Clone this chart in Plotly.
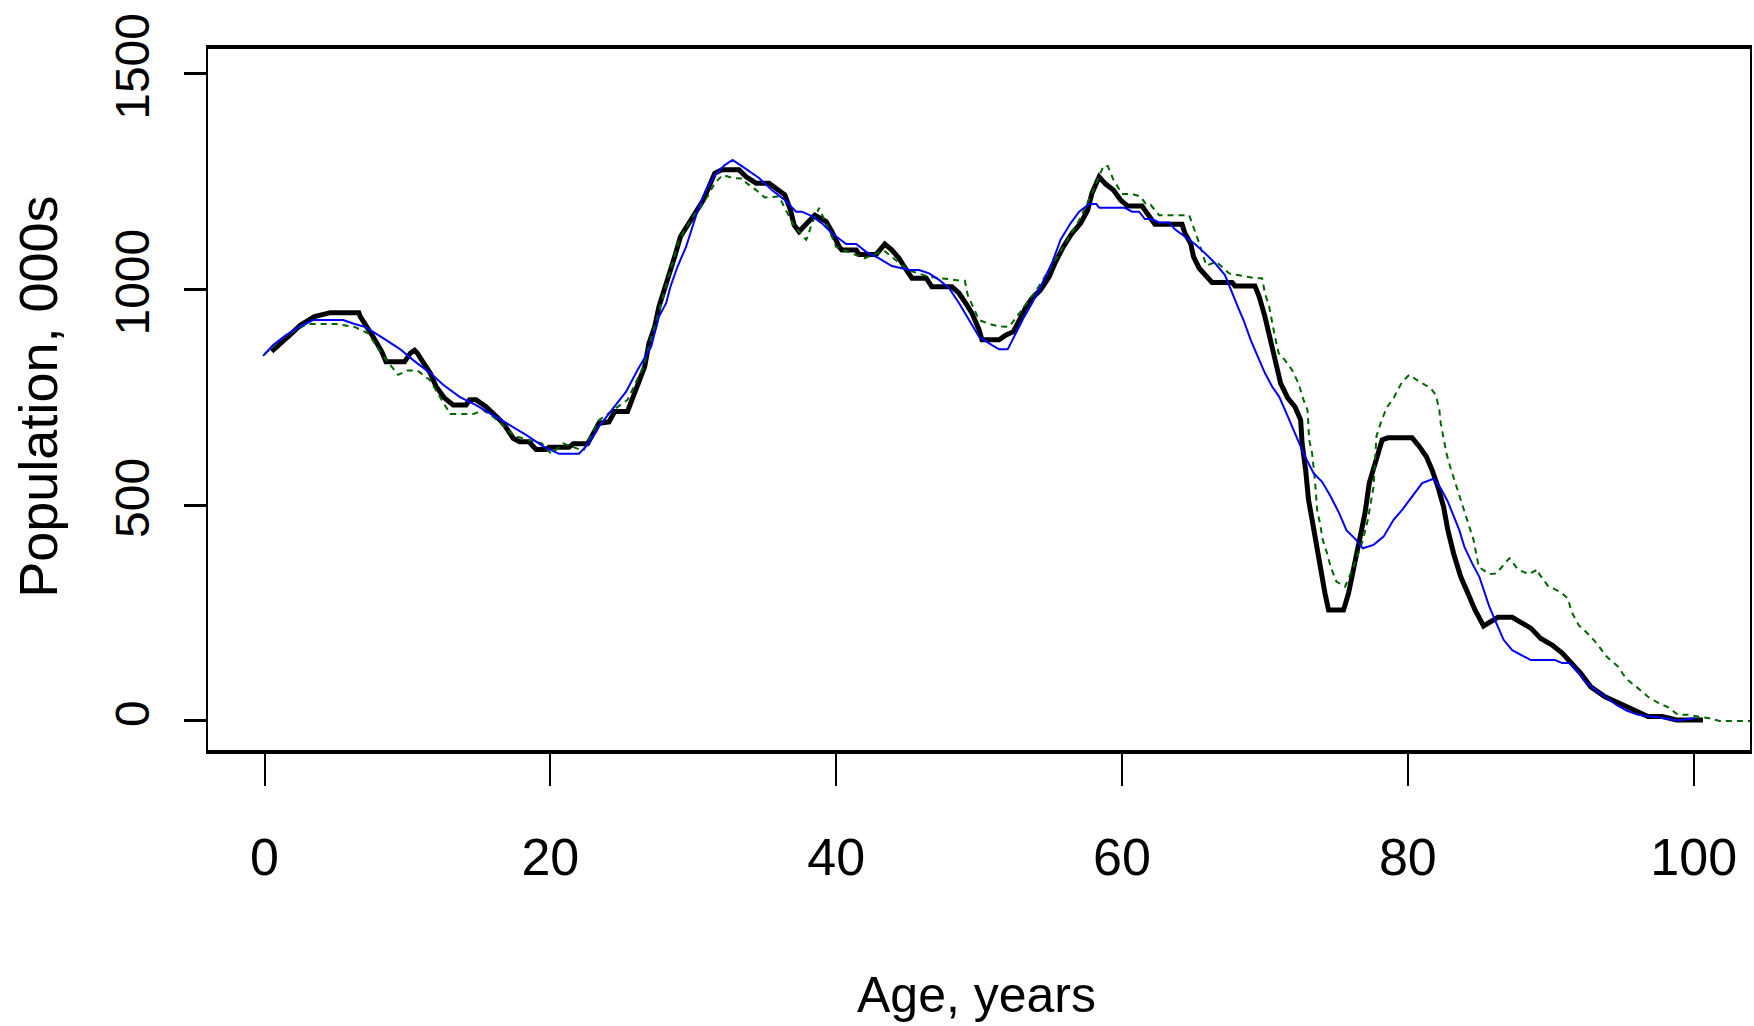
import plotly.graph_objects as go

# ---------------- data ----------------
black_age = [0.5, 1.2, 1.9, 2.5, 3.5, 4.6, 6.6, 6.7, 7.1, 7.6, 8.2, 8.5, 9.8, 10.2, 10.5, 10.7, 11.0, 11.6,
             12.0, 12.6, 13.2, 14.1, 14.35, 14.8, 15.5, 16.0, 16.7, 17.4, 17.85, 18.5, 19.0, 19.7, 19.9, 21.3,
             21.6, 22.6, 23.0, 23.4, 24.1, 24.5, 25.4, 25.8, 26.1, 26.6, 26.9, 27.3, 27.6, 28.0, 28.3, 28.7,
             29.1, 29.6, 30.2, 30.7, 31.1, 31.5, 32.0, 33.2, 33.7, 34.4, 35.3, 35.8, 36.4, 36.8, 37.06, 37.4,
             37.9, 38.5, 39.3, 39.7, 40.2, 40.4, 41.4, 41.6, 42.8, 43.2, 43.4, 43.9, 44.4, 44.75, 45.3, 46.3,
             46.7, 48.1, 48.6, 49.06, 49.5, 50.0, 50.2, 51.4, 51.86, 52.4, 52.8, 53.3, 53.7, 54.3, 54.9, 55.35,
             55.9, 56.5, 57.1, 57.6, 57.9, 58.26, 58.4, 58.85, 59.4, 59.9, 60.4, 61.4, 61.75, 62.3, 64.2, 64.4,
             64.8, 65.0, 65.4, 65.8, 66.3, 67.7, 67.9, 69.3, 69.6, 70.0, 70.36, 70.7, 71.1, 71.6, 72.1, 72.5,
             72.6, 72.85, 73.05, 73.3, 73.6, 73.98, 74.2, 74.45, 75.5, 75.85, 76.2, 76.6, 77.0, 77.3, 77.8,
             78.2, 78.6, 80.3, 80.8, 81.3, 81.7, 82.1, 82.5, 82.8, 83.2, 83.7, 84.2, 84.7, 85.3, 85.8, 86.3,
             87.3, 87.8, 88.6, 89.3, 90.1, 90.8, 91.4, 92.1, 92.8, 93.8, 94.8, 95.8, 96.8, 97.8, 98.8, 100.65]
black_pop = [856, 879, 898, 917, 937, 946, 946, 937, 917, 890, 856, 832, 832, 852, 859, 852, 836, 806,
             775, 748, 732, 732, 744, 744, 728, 713, 690, 655, 647, 647, 629, 629, 634, 634,
             642, 642, 666, 690, 693, 717, 717, 751, 782, 821, 875, 914, 960, 999, 1037, 1076,
             1122, 1149, 1176, 1207, 1238, 1269, 1277, 1277, 1261, 1246, 1246, 1234, 1219, 1184, 1149, 1134,
             1153, 1172, 1157, 1134, 1099, 1091, 1091, 1081, 1081, 1098, 1105, 1091, 1072, 1053, 1026, 1026,
             1006, 1006, 991, 968, 945, 906, 883, 883, 894, 902, 929, 960, 979, 999, 1029, 1064,
             1099, 1130, 1153, 1184, 1223, 1254, 1261, 1244, 1230, 1207, 1193, 1193, 1176, 1151, 1151, 1130,
             1107, 1076, 1049, 1033, 1016, 1016, 1008, 1008, 983, 937, 890, 836, 782, 748, 728, 697,
             643, 581, 512, 466, 404, 334, 296, 257, 257, 296, 357, 419, 481, 551, 612,
             651, 656, 656, 636, 612, 581, 543, 496, 442, 388, 334, 296, 257, 220, 230, 240,
             240, 230, 215, 191, 176, 157, 137, 110, 79, 56, 41, 25, 10, 10, 2, 2]

blue_age = [-0.1, 0.6, 1.5, 2.5, 3.4, 5.5, 6.2, 7.1, 8.3, 9.5, 10.4, 11.6, 12.5, 13.65, 14.8, 16.0, 17.15,
            18.3, 19.5, 20.6, 22.0, 22.5, 23.2, 23.4, 24.4, 25.3, 26.1, 27.05, 27.6, 28.1, 28.4, 28.9, 29.5,
            29.96, 30.4, 30.9, 31.5, 32.2, 32.75, 33.6, 34.6, 35.5, 36.4, 37.2, 37.6, 38.3, 39.0, 39.7, 40.7,
            41.4, 42.1, 43.0, 43.9, 45.1, 45.8, 46.5, 47.2, 47.9, 48.6, 49.3, 50.0, 50.9, 51.4, 52.0, 52.4,
            53.1, 53.7, 54.3, 55.1, 55.7, 56.4, 57.0, 57.7, 58.2, 58.4, 60.2, 60.7, 61.2, 61.6, 62.1, 62.6,
            63.3, 63.7, 64.4, 65.1, 65.8, 66.5, 67.2, 67.7, 68.2, 68.5, 69.0, 69.5, 70.0, 70.5, 71.0, 71.5,
            72.1, 72.7, 73.4, 74.0, 74.6, 75.2, 75.7, 76.4, 76.85, 77.6, 78.3, 79.0, 79.6, 80.3, 81.0, 81.8,
            82.3, 82.8, 83.2, 83.6, 83.95, 84.5, 85.0, 85.3, 85.7, 86.2, 86.7, 87.3, 88.1, 88.6, 90.3, 90.8,
            91.3, 91.8, 92.3, 93.1, 93.8, 94.6, 95.3, 96.1, 97.6, 98.8, 100.1]
blue_pop = [846, 871, 894, 914, 929, 929, 921, 912, 887, 861, 836, 806, 779, 751, 732, 709, 686,
            663, 636, 619, 619, 636, 670, 682, 725, 763, 813, 867, 937, 968, 1006, 1053, 1099,
            1145, 1192, 1230, 1265, 1288, 1300, 1281, 1258, 1230, 1207, 1180, 1180, 1170, 1153, 1130, 1105,
            1105, 1087, 1072, 1054, 1045, 1045, 1037, 1022, 1003, 968, 929, 890, 871, 861, 861, 887,
            933, 968, 1006, 1061, 1115, 1153, 1180, 1198, 1198, 1189, 1189, 1180, 1180, 1163, 1163, 1155,
            1155, 1139, 1122, 1105, 1084, 1061, 1033, 991, 952, 929, 883, 844, 806, 775, 751, 713,
            667, 620, 574, 554, 520, 481, 442, 419, 400, 408, 427, 466, 489, 520, 551, 561,
            539, 508, 473, 442, 404, 365, 334, 303, 265, 226, 188, 164, 149, 141, 141, 134,
            134, 118, 95, 72, 56, 37, 24, 14, 8, 1, 6]

green_age = [0.0, 1.5, 3.0, 5.0, 6.3, 7.25, 8.2, 9.35, 10.0, 10.7, 11.56, 12.7, 13.0, 14.6, 15.3, 16.1,
             17.5, 19.4, 20.06, 20.9, 22.3, 23.4, 24.7, 25.4, 26.5, 27.5, 28.7, 29.0, 30.0, 31.0, 31.5,
             32.05, 32.75, 33.5, 33.7, 34.4, 35.0, 36.0, 37.0, 37.9, 38.0, 38.3, 38.7, 38.8, 39.7, 40.0,
             41.96, 43.35, 45.0, 46.5, 48.8, 49.0, 49.2, 49.8, 50.0, 50.7, 51.4, 52.1, 52.8, 53.95, 55.0,
             57.0, 58.0, 58.7, 59.0, 59.4, 60.0, 60.7, 61.3, 61.7, 62.0, 62.6, 64.7, 65.0, 65.4, 65.9,
             66.6, 67.5, 69.3, 69.8, 70.0, 70.3, 70.5, 70.7, 70.96, 71.4, 71.9, 72.35, 72.7, 72.98, 73.1,
             73.3, 73.5, 73.65, 73.85, 74.05, 74.35, 74.6, 75.0, 75.6, 75.9, 76.3, 76.85, 77.2, 77.6, 77.7,
             77.8, 78.1, 78.5, 79.0, 79.6, 80.1, 80.8, 81.6, 81.96, 82.2, 82.3, 82.5, 82.7, 82.96, 83.3,
             83.6, 83.96, 84.3, 84.6, 84.96, 85.7, 86.2, 86.8, 87.1, 87.7, 88.45, 89.1, 89.2, 89.8, 90.6,
             91.2, 91.45, 91.95, 92.7, 93.3, 93.9, 94.7, 95.3, 96.1, 96.8, 97.55, 98.2, 98.9, 99.6, 101.1,
             101.8, 106.0]
green_pop = [850, 893, 920, 920, 913, 898, 850, 802, 812, 812, 790, 728, 711, 711, 720, 702,
             660, 643, 619, 643, 626, 697, 727, 744, 820, 940, 1084, 1115, 1170, 1215, 1246,
             1265, 1258, 1257, 1247, 1230, 1213, 1215, 1150, 1115, 1122, 1153, 1180, 1189, 1122, 1098,
             1072, 1090, 1045, 1029, 1020, 1020, 987, 946, 929, 920, 914, 913, 945, 995, 1050,
             1160, 1230, 1286, 1286, 1254, 1221, 1221, 1215, 1196, 1196, 1172, 1172, 1145, 1107, 1055,
             1064, 1037, 1026, 1026, 991, 960, 921, 890, 852, 836, 813, 782, 744, 720, 651,
             620, 558, 489, 458, 419, 388, 357, 323, 311, 334, 366, 419, 466, 543, 620,
             659, 690, 725, 748, 786, 802, 786, 771, 755, 721, 690, 655, 620, 589, 554,
             520, 485, 450, 419, 357, 340, 342, 365, 377, 351, 340, 351, 340, 313, 300,
             284, 253, 222, 199, 176, 149, 126, 97, 76, 56, 41, 32, 14, 14, 6,
             0, 0]

x_ticks = [0, 20, 40, 60, 80, 100]
y_ticks = [0, 500, 1000, 1500]
x_title = "Age, years"
y_title = "Population, 000s"

# ---------------- figure ----------------
fig = go.Figure()
fig.add_trace(go.Scatter(x=black_age, y=black_pop, mode="lines",
                         line=dict(color="#000000", width=5), hoverinfo="skip"))
fig.add_trace(go.Scatter(x=green_age, y=green_pop, mode="lines",
                         line=dict(color="#006400", width=2, dash="6px,5px"), hoverinfo="skip"))
fig.add_trace(go.Scatter(x=blue_age, y=blue_pop, mode="lines",
                         line=dict(color="#0000FF", width=2), hoverinfo="skip"))

regular = "Liberation Sans, Arial, sans-serif"

fig.update_layout(
    width=1754, height=1026,
    margin=dict(l=208, r=2, t=49, b=276, pad=0),
    paper_bgcolor="white", plot_bgcolor="white",
    showlegend=False,
    xaxis=dict(range=[-3.955, 103.94], tickmode="array", tickvals=x_ticks,
               ticktext=[str(v) for v in x_ticks],
               ticks="outside", ticklen=32, tickwidth=2, tickcolor="black",
               showline=True, linewidth=3.5, linecolor="black", mirror=True,
               showgrid=False, zeroline=False,
               tickfont=dict(family=regular, size=52, color="black"),
               ticklabelstandoff=27),
    yaxis=dict(range=[-67.4, 1557], tickmode="array", tickvals=y_ticks,
               ticktext=[str(v) for v in y_ticks],
               ticks="outside", ticklen=22, tickwidth=2.5, tickcolor="black",
               showline=True, linewidth=2, linecolor="black", mirror=True,
               showgrid=False, zeroline=False, tickangle=-90,
               tickfont=dict(family=regular, size=48, color="black"),
               ticklabelstandoff=16),
    annotations=[
        dict(text=x_title, xref="paper", yref="paper", x=0.4987, y=-0.3488,
             xanchor="center", yanchor="middle", showarrow=False,
             font=dict(family=regular, size=50, color="black")),
        dict(text=y_title, xref="paper", yref="paper", x=-0.1104, y=0.5036,
             xanchor="center", yanchor="middle", showarrow=False, textangle=-90,
             font=dict(family=regular, size=54, color="black")),
    ],
)

fig.write_html("out.html")
